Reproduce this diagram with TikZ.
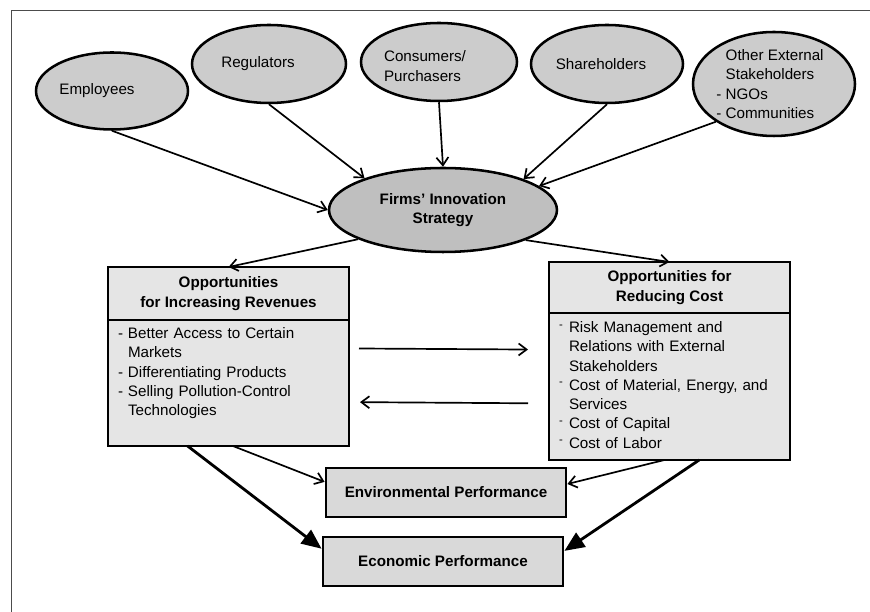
\documentclass[tikz,border=0pt]{standalone}
\usepackage{fontspec}
\setmainfont{Liberation Sans}
\usetikzlibrary{shapes.geometric, arrows.meta, positioning}
\definecolor{ovalgray}{gray}{0.8}
\definecolor{firmgray}{gray}{0.75}
\definecolor{boxgray}{gray}{0.9}
\definecolor{perfgray}{gray}{0.85}
\definecolor{framegray}{gray}{0.3}
\newcommand{\figfont}{\fontsize{10.8}{13.7}\selectfont}
\newcommand{\rdash}{\raisebox{0.3em}{\footnotesize -}}
\tikzset{
	every node/.style={font=\figfont},
	stake/.style={shape=ellipse, draw, line width=1.8pt, fill=ovalgray, inner sep=0pt},
	headbox/.style={shape=rectangle, draw, line width=2pt, fill=boxgray, minimum width=6.025cm, align=center, font=\figfont\bfseries, outer sep=0pt},
	listbox/.style={shape=rectangle, draw, line width=2pt, fill=boxgray, text width=5.525cm, inner xsep=0.25cm, inner ysep=0pt, outer sep=0pt, align=left},
	perfbox/.style={shape=rectangle, draw, line width=2pt, fill=perfgray, minimum width=6cm, minimum height=1.225cm, font=\figfont\bfseries},
	flow/.style={line width=1.2pt, -{Straight Barb[length=0.2cm, width=0.3cm]}},
	bigflow/.style={line width=2pt, -{Triangle[length=0.5cm, width=0.42cm]}}
}
\begin{document}
\begin{tikzpicture}[transform shape]
	\useasboundingbox (0, 0) rectangle (21.75, 15.3);
	\draw[framegray, line width=0.7pt] (0.275, 0) -- (0.275, 15.025) -- (21.75, 15.025);
	% Stakeholders and strategy:
	\node[stake, minimum width=3.8cm, minimum height=1.925cm, label={[xshift=-0.375cm]center:Employees}] (emp) at (2.8, 13.025){};
	\node[stake, minimum width=3.85cm, minimum height=1.95cm, label={[xshift=-0.275cm]center:Regulators}] (reg) at (6.725, 13.7){};
	\node[stake, minimum width=3.9cm, minimum height=1.95cm, label={[align=left, xshift=-0.35cm, yshift=-0.1cm]center:Consumers/\\Purchasers}] (con) at (10.975, 13.75){};
	\node[stake, minimum width=3.8cm, minimum height=1.95cm, label={[xshift=-0.15cm]center:Shareholders}] (sha) at (15.175, 13.7){};
	\node[stake, minimum width=4.05cm, minimum height=2.6cm, label={[align=left, xshift=-0.1cm]center:\phantom{- }Other External\\\phantom{- }Stakeholders\\- NGOs\\- Communities}] (oth) at (19.35, 13.2){};
	\node[stake, fill=firmgray, minimum width=5.7cm, minimum height=2.1cm, align=center, font=\figfont\bfseries] (firm) at (11.075, 10.05){Firms’ Innovation\\Strategy};
	% Opportunity boxes:
	\node[headbox, minimum height=1.325cm] (revhead) at (5.7125, 7.9625){Opportunities\\for Increasing Revenues};
	\node[listbox, minimum height=3.15cm, below=0pt of revhead] (revbody){\begin{tabular}{@{}p{0.25cm}@{}l@{}}
		- & Better Access to Certain\\
		  & Markets\\
		- & Differentiating Products\\
		- & Selling Pollution-Control\\
		  & Technologies\\
		  & \\
	\end{tabular}};
	\node[headbox, minimum height=1.275cm] (costhead) at (16.7375, 8.1125){Opportunities for\\Reducing Cost};
	\node[listbox, minimum height=3.675cm, below=0pt of costhead] (costbody){\begin{tabular}{@{}p{0.25cm}@{}l@{}}
		\rdash & Risk Management and\\
		       & Relations with External\\
		       & Stakeholders\\
		\rdash & Cost of Material, Energy, and\\
		       & Services\\
		\rdash & Cost of Capital\\
		\rdash & Cost of Labor\\
	\end{tabular}};
	% Performance boxes:
	\node[perfbox] (env) at (11.15, 2.9875){Environmental Performance};
	\node[perfbox] (econ) at (11.075, 1.2625){Economic Performance};
	% Connectors:
	\draw[flow] (emp.south) -- (firm.west);
	\draw[flow] (reg.south) -- (firm.158);
	\draw[flow] (con.south) -- (firm.north);
	\draw[flow] (sha.south) -- (firm.21);
	\draw[flow] (oth.213) -- (firm.14);
	\draw[flow] (firm.199) -- (revhead.north);
	\draw[flow] (firm.340) -- (costhead.north);
	\draw[flow, shorten <=0.25cm, shorten >=0.525cm] (revbody.16) -- (costbody.163);
	\draw[flow, shorten <=0.525cm, shorten >=0.275cm] (costbody.188) -- (revbody.351);
	\draw[flow] (revbody.274) -- (env.175);
	\draw[flow] (costbody.266) -- (env.4);
	\draw[bigflow] (revbody.237) -- (econ.174);
	\draw[bigflow] (costbody.292) -- (econ.5);
\end{tikzpicture}
\end{document}
